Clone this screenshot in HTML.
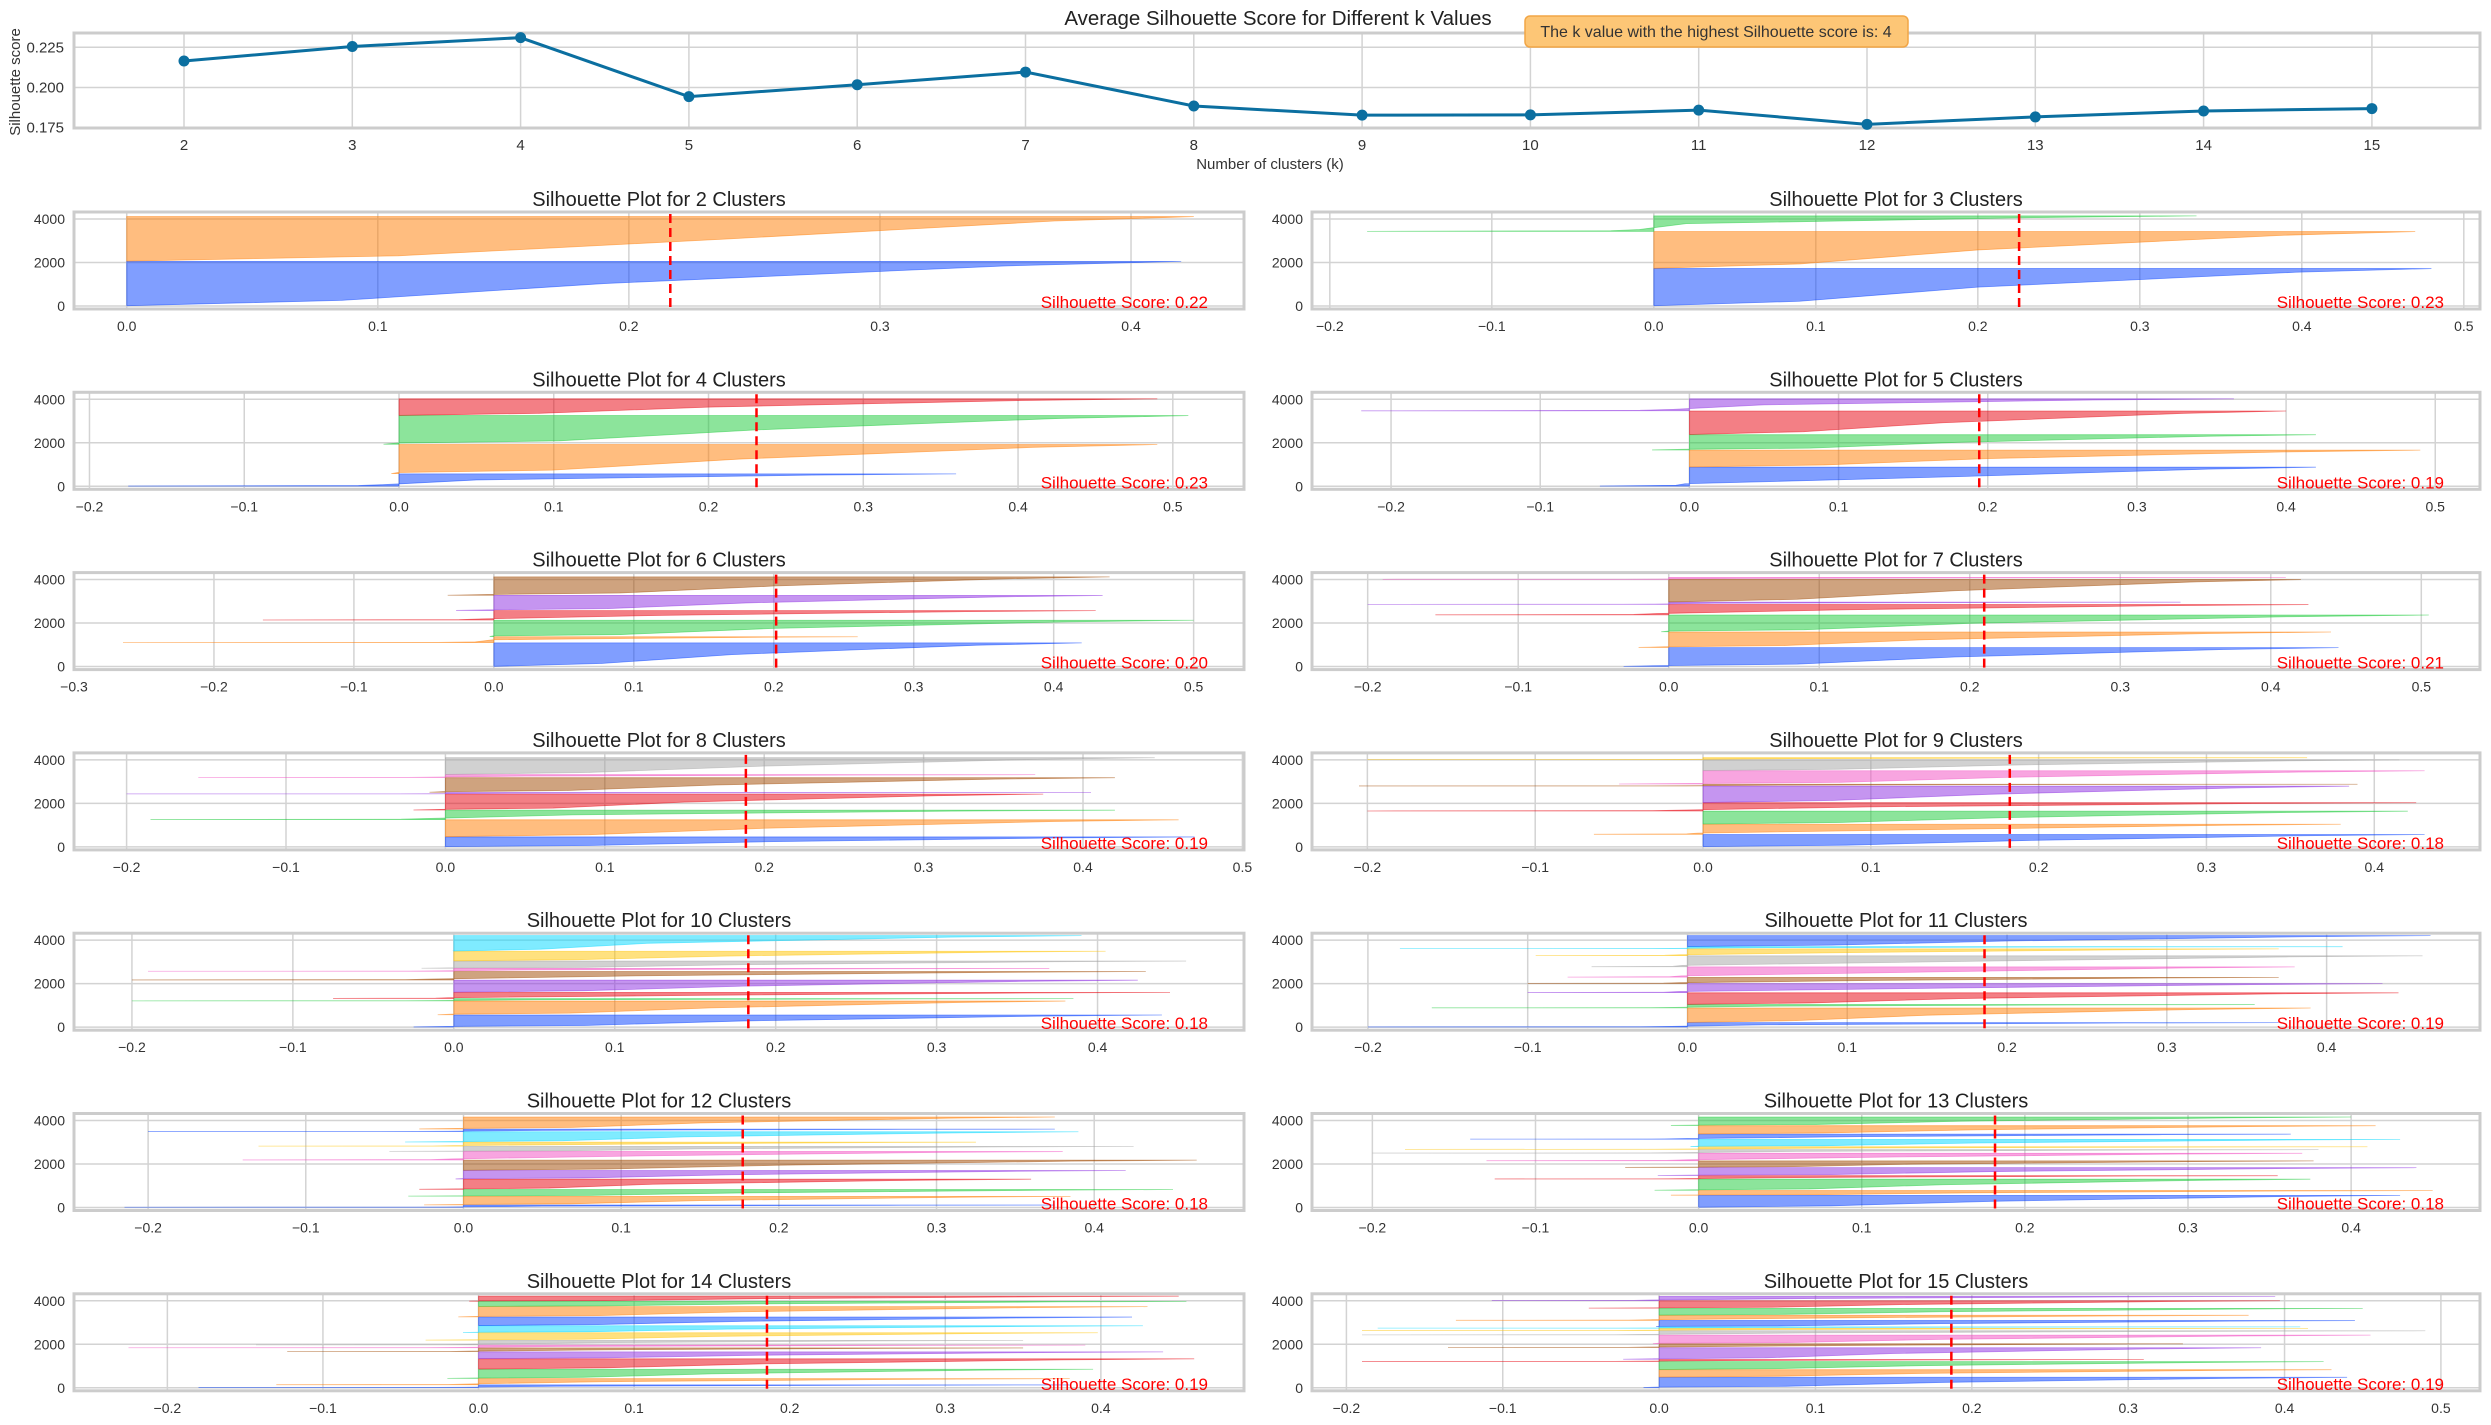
<!DOCTYPE html>
<html><head><meta charset="utf-8"><style>
html,body{margin:0;padding:0;background:#fff}
svg{display:block;font-family:"Liberation Sans",sans-serif}
</style></head><body>
<svg id="chart" xmlns="http://www.w3.org/2000/svg" width="2491" height="1425" viewBox="0 0 2491 1425">
<rect width="2491" height="1425" fill="#fff"/>
</svg>
<script>
// ---- top chart data ----
const kValues = [2,3,4,5,6,7,8,9,10,11,12,13,14,15];
const avgScores = [0.2165,0.2255,0.231,0.1943,0.2017,0.2096,0.1885,0.1828,0.1830,0.1859,0.1771,0.1817,0.1854,0.1869];
const topYTicks = [0.175,0.200,0.225];
// ---- silhouette panels data (per panel k = 2..15) ----
const clusterSizes = [
 [2050,2060],
 [1720,1700,720],
 [570,1350,1330,770],
 [877,783,710,1090,560],
 [1090,280,760,440,700,855],
 [870,720,780,480,110,1040,100],
 [457,787,441,740,75,680,140,780],
 [567,473,600,390,760,90,620,500,100],
 [560,640,110,290,560,400,140,340,450,720],
 [210,670,160,540,420,290,480,510,320,100,510],
 [110,400,315,475,400,475,395,240,190,480,120,560],
 [555,225,520,160,370,310,350,170,130,340,240,390,400],
 [130,290,430,480,320,180,130,220,350,320,400,480,240,240],
 [480,350,370,100,540,180,400,200,110,70,290,240,320,350,200]
];
const clusterMin = [
 [0,0],
 [0,0,-0.177],
 [-0.175,-0.005,-0.01,0],
 [-0.06,0,-0.025,0,-0.22],
 [0,-0.265,-0.003,-0.165,-0.027,-0.033],
 [-0.03,-0.02,-0.005,-0.155,-0.2,0,-0.19],
 [0,0,-0.185,-0.02,-0.2,-0.01,-0.155,0],
 [0,-0.065,0,-0.2,0,-0.205,-0.05,0,-0.2],
 [-0.025,-0.01,-0.2,-0.075,0,-0.2,-0.19,-0.02,0,0],
 [-0.2,0,-0.16,0,-0.1,-0.1,-0.075,-0.06,-0.095,-0.18,0],
 [-0.215,-0.025,-0.035,-0.028,-0.005,0,-0.14,-0.047,-0.13,-0.037,-0.2,-0.028],
 [0,-0.017,-0.027,-0.125,-0.025,-0.045,-0.13,-0.2,-0.18,-0.005,-0.14,0,-0.017],
 [-0.18,-0.13,-0.02,0,0,-0.123,-0.225,-0.143,-0.034,-0.01,0,-0.013,0,-0.006],
 [-0.01,0,0,-0.19,-0.023,-0.135,-0.004,-0.19,-0.19,-0.18,-0.002,-0.13,0,-0.045,-0.107]
];
const clusterMed = [
 [0.19,0.24],
 [0.2,0.2,0.02],
 [0.05,0.22,0.23,0.2],
 [0.18,0.2,0.18,0.17,0.05],
 [0.17,0.0,0.2,0.12,0.18,0.2],
 [0.19,0.17,0.2,0.12,0.03,0.19,0.05],
 [0.2,0.2,0.08,0.15,0.05,0.17,0.05,0.2],
 [0.19,0.15,0.18,0.1,0.17,0.05,0.18,0.18,0.05],
 [0.18,0.16,0.05,0.15,0.18,0.12,0.05,0.18,0.17,0.12],
 [0.05,0.15,0.05,0.17,0.16,0.12,0.15,0.18,0.12,0.05,0.2],
 [0.05,0.15,0.18,0.12,0.17,0.2,0.12,0.15,0.1,0.14,0.05,0.15],
 [0.18,0.17,0.15,0.08,0.18,0.13,0.12,0.06,0.08,0.17,0.1,0.17,0.16],
 [0.05,0.08,0.15,0.18,0.18,0.08,0.05,0.08,0.15,0.16,0.17,0.17,0.18,0.18],
 [0.18,0.17,0.17,0.05,0.15,0.1,0.18,0.1,0.08,0.06,0.18,0.12,0.18,0.16,0.1]
];
const clusterMax = [
 [0.42,0.425],
 [0.48,0.47,0.335],
 [0.36,0.49,0.51,0.49],
 [0.42,0.49,0.42,0.40,0.365],
 [0.42,0.26,0.50,0.43,0.435,0.44],
 [0.445,0.44,0.505,0.425,0.34,0.42,0.41],
 [0.47,0.46,0.42,0.375,0.405,0.42,0.37,0.445],
 [0.43,0.38,0.42,0.425,0.385,0.39,0.43,0.415,0.36],
 [0.44,0.38,0.385,0.445,0.425,0.43,0.37,0.455,0.405,0.39],
 [0.37,0.39,0.355,0.445,0.435,0.37,0.38,0.46,0.37,0.41,0.465],
 [0.375,0.385,0.45,0.36,0.42,0.465,0.38,0.425,0.325,0.39,0.375,0.375],
 [0.43,0.45,0.375,0.355,0.44,0.377,0.37,0.38,0.41,0.43,0.363,0.415,0.4],
 [0.38,0.38,0.395,0.46,0.44,0.35,0.39,0.35,0.398,0.427,0.42,0.43,0.455,0.45],
 [0.44,0.43,0.425,0.31,0.385,0.335,0.455,0.49,0.415,0.41,0.445,0.377,0.45,0.397,0.394]
];
const panelXLim = [
 [-0.021,0.445],[-0.211,0.51],[-0.21,0.546],[-0.253,0.53],[-0.3,0.536],[-0.237,0.539],[-0.233,0.501],
 [-0.233,0.463],[-0.236,0.491],[-0.235,0.496],[-0.247,0.495],[-0.237,0.479],[-0.26,0.492],[-0.222,0.525]
];
const yTickLabels = [0,2000,4000];
const palette = ['#023eff','#ff7c00','#1ac938','#e8000b','#8b2be2','#9f4800','#f14cc1','#a3a3a3','#ffc400','#00d7ff'];

const NS = 'http://www.w3.org/2000/svg';
const svg = document.getElementById('chart');
function mk(tag, attrs, parent){
  const e = document.createElementNS(NS, tag);
  for (const k in attrs) e.setAttribute(k, attrs[k]);
  (parent||svg).appendChild(e);
  return e;
}
function txt(s, attrs, parent){ const e = mk('text', attrs, parent); e.textContent = s; return e; }

// ---------- Top line chart ----------
(function(){
  const L=74, R=2480, T=33, B=128;
  const xs = k => 184 + (k-2)*168.3;
  const ys = v => 127.7 - (v-0.175)*1608;
  const g = mk('g', {});
  
  
  kValues.forEach(k=>{
    const l = mk('line',{x1:xs(k),x2:xs(k),y1:T,y2:B,stroke:'#d3d3d3','stroke-width':1.5},g);
     
    const t = txt(String(k),{x:xs(k),y:150,'text-anchor':'middle','font-size':15,fill:'#333'},g);
     
  });
  topYTicks.forEach(v=>{
    const l = mk('line',{x1:L,x2:R,y1:ys(v),y2:ys(v),stroke:'#d3d3d3','stroke-width':1.5},g);
     
    const t = txt(v.toFixed(3),{x:64,y:ys(v)+5,'text-anchor':'end','font-size':15,fill:'#333'},g);
     
  });
  const fr = mk('rect',{x:L,y:T,width:R-L,height:B-T,fill:'none',stroke:'#cccccc','stroke-width':3},g);
   
  const pts = kValues.map((k,i)=>xs(k)+','+ys(avgScores[i])).join(' ');
  const pl = mk('polyline',{points:pts,fill:'none',stroke:'#0b6fa0','stroke-width':3},g);
   
  kValues.forEach((k,i)=>{
    const c = mk('circle',{cx:xs(k),cy:ys(avgScores[i]),r:5.5,fill:'#0b6fa0'},g);
     
  });
  const tt = txt('Average Silhouette Score for Different k Values',{x:1278,y:25,'text-anchor':'middle','font-size':20.5,fill:'#222'},g);
   
  const xl = txt('Number of clusters (k)',{x:1270,y:169,'text-anchor':'middle','font-size':15,fill:'#333'},g);
   
  const yl = txt('Silhouette score',{x:0,y:0,'text-anchor':'middle','font-size':15,fill:'#333',transform:'translate(20,82) rotate(-90)'},g);
   
  const best = kValues[avgScores.indexOf(Math.max(...avgScores))];
  const ab = mk('rect',{x:1525,y:16,width:383,height:31,rx:5,fill:'#fdc676',stroke:'#f2a646','stroke-width':1.5},g);
   
  const at = txt('The k value with the highest Silhouette score is: '+best,{x:1716,y:37,'text-anchor':'middle','font-size':16,fill:'#333'},g);
   
})();

// ---------- Silhouette panels ----------
function clusterPoints(mn, md, mx){
  const q0 = mn < 0 ? mn*0.15 : mn + (md-mn)*0.15;
  const q10 = mn < -0.05 ? mn*0.05 : md*0.45;
  const q90 = md + (mx-md)*0.7;
  return [[0,mn],[0.04,q0],[0.12,q10],[0.5,md],[0.9,q90],[1,mx]];
}
clusterSizes.forEach((sizes, p)=>{
  const k = p + 2;
  const row = Math.floor(p/2), col = p % 2;
  const L = col ? 1312 : 74, R = col ? 2480 : 1244;
  const T = 212 + row*180.3, B = T + 97;
  const [lo, hi] = panelXLim[p];
  const xs = v => L + (v-lo)/(hi-lo)*(R-L);
  const ys = v => B - (v+140)/(4320+140)*(B-T);
  const g = mk('g',{});
  
  
  const cid = 'clip'+p;
  const cp = mk('clipPath',{id:cid},g);
  mk('rect',{x:L,y:T,width:R-L,height:B-T},cp);
  for (let t = Math.ceil(lo*10-1e-9); t <= Math.floor(hi*10+1e-9); t++){
    const v = t/10;
    const l = mk('line',{x1:xs(v),x2:xs(v),y1:T,y2:B,stroke:'#d3d3d3','stroke-width':1.5},g);
     
    const lab = (v<0?'\u2212':'') + Math.abs(v).toFixed(1);
    const tl = txt(lab,{x:xs(v),y:B+22,'text-anchor':'middle','font-size':14,fill:'#333'},g);
     
  }
  yTickLabels.forEach(v=>{
    const l = mk('line',{x1:L,x2:R,y1:ys(v),y2:ys(v),stroke:'#d3d3d3','stroke-width':1.5},g);
     
    const tl = txt(String(v),{x:L-9,y:ys(v)+5,'text-anchor':'end','font-size':14,fill:'#333'},g);
     
  });
  const cg = mk('g',{'clip-path':'url(#'+cid+')'},g);
  let y0 = 0;
  sizes.forEach((sz, c)=>{
    const pts = clusterPoints(clusterMin[p][c], clusterMed[p][c], clusterMax[p][c]);
    const yb = y0 + 10, yt = y0 + sz;
    let d = 'M'+xs(0)+','+ys(yb);
    pts.forEach(([t,v])=>{ d += ' L'+xs(v).toFixed(1)+','+ys(yb+(yt-yb)*t).toFixed(2); });
    d += ' L'+xs(0)+','+ys(yt)+' Z';
    const col = palette[c % palette.length];
    const path = mk('path',{d:d,fill:col,'fill-opacity':0.5,stroke:col,'stroke-opacity':0.5,'stroke-width':0.8},cg);
    
    
    y0 += sz;
  });
  const fr = mk('rect',{x:L,y:T,width:R-L,height:B-T,fill:'none',stroke:'#cccccc','stroke-width':3},g);
   
  const avg = avgScores[kValues.indexOf(k)];
  const al = mk('line',{x1:xs(avg),x2:xs(avg),y1:T+2,y2:B-2,stroke:'#ff0000','stroke-width':2.5,'stroke-dasharray':'9,5'},g);
   
  const st = txt('Silhouette Score: '+avg.toFixed(2),{x:R-36,y:B-1,'text-anchor':'end','font-size':17,fill:'#ff0000'},g);
   
  const tt = txt('Silhouette Plot for '+k+' Clusters',{x:(L+R)/2,y:T-6,'text-anchor':'middle','font-size':20,fill:'#222'},g);
   
});
</script>
</body></html>
